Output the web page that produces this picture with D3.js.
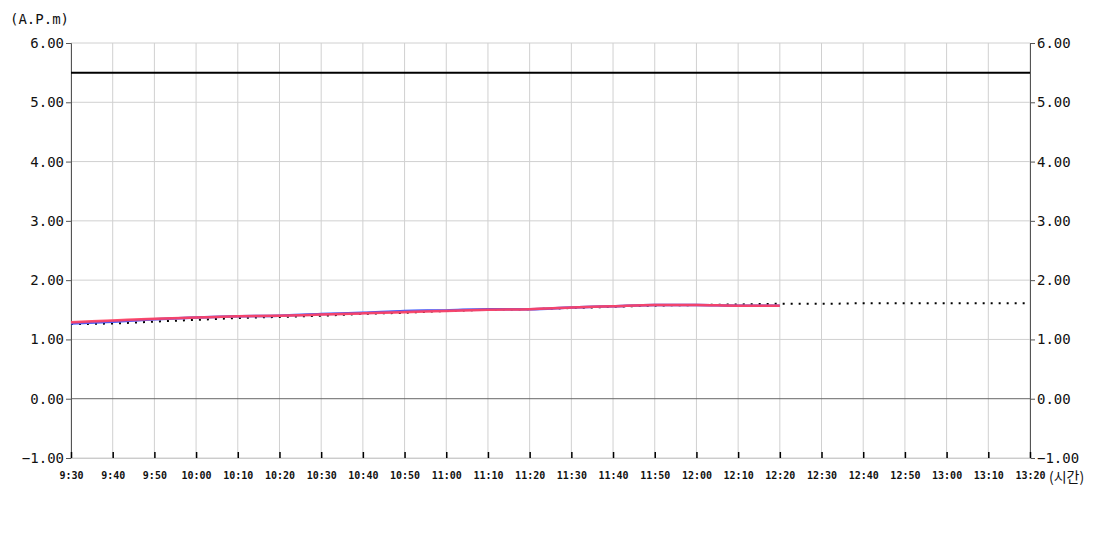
<!DOCTYPE html>
<html><head><meta charset="utf-8">
<script src="https://cdn.jsdelivr.net/npm/d3@7/dist/d3.min.js"></script>
<style>body{margin:0;background:#fff;}svg{display:block;font-family:"DejaVu Sans Mono",monospace;}</style>
</head><body>
<svg id="c" width="1100" height="550"></svg>
<script>
const timeLabels = ["9:30","9:40","9:50","10:00","10:10","10:20","10:30","10:40","10:50","11:00","11:10","11:20","11:30","11:40","11:50","12:00","12:10","12:20","12:30","12:40","12:50","13:00","13:10","13:20"];
const yTicks = [6,5,4,3,2,1,0,-1];
const threshold = 5.5;
const seriesBlue   = [1.27,1.30,1.34,1.37,1.39,1.40,1.43,1.45,1.48,1.49,1.51,1.51,1.54,1.56,1.58,1.58,1.57,1.57];
const seriesPurple = [1.28,1.31,1.34,1.37,1.39,1.40,1.42,1.44,1.47,1.49,1.50,1.51,1.54,1.56,1.58,1.58,1.57,1.57];
const seriesRed    = [1.29,1.32,1.35,1.37,1.39,1.40,1.42,1.44,1.46,1.48,1.50,1.51,1.54,1.56,1.58,1.58,1.57,1.57];
const seriesDotted = [1.26,1.27,1.30,1.33,1.36,1.38,1.40,1.43,1.45,1.48,1.50,1.51,1.53,1.55,1.57,1.58,1.59,1.60,1.60,1.61,1.61,1.61,1.61,1.61];

const svg = d3.select("#c");
const L = 71, R = 1030, T = 43, B = 458;
const x = d3.scalePoint().domain(timeLabels).range([L, R]);
const y = d3.scaleLinear().domain([-1, 6]).range([B, T]);

// grid
svg.append("g").selectAll("line").data(timeLabels).join("line")
  .attr("x1", d => x(d)).attr("x2", d => x(d)).attr("y1", T).attr("y2", B)
  .attr("stroke", "#d0d0d0").attr("stroke-width", 1);
svg.append("g").selectAll("line").data(yTicks).join("line")
  .attr("x1", L).attr("x2", R).attr("y1", d => y(d)).attr("y2", d => y(d))
  .attr("stroke", d => d === 0 ? "#666" : "#d0d0d0").attr("stroke-width", 1);

// axes
const yl = svg.append("g").attr("transform", `translate(${L},0)`)
  .call(d3.axisLeft(y).tickValues(yTicks).tickFormat(d3.format(".2f")).tickSize(5).tickPadding(2));
const yr = svg.append("g").attr("transform", `translate(${R},0)`)
  .call(d3.axisRight(y).tickValues(yTicks).tickFormat(d3.format(".2f")).tickSize(5).tickPadding(2));
[yl, yr].forEach(g => {
  g.select(".domain").attr("stroke", "#555");
  g.selectAll(".tick line").attr("stroke", "#555");
  g.selectAll("text").attr("font-size", 14).attr("fill", "#111").attr("font-family", "DejaVu Sans Mono, monospace");
});
const xa = svg.append("g").attr("transform", `translate(0,${B})`)
  .call(d3.axisBottom(x).tickSize(-6).tickPadding(14));
xa.select(".domain").attr("stroke", "#ccc");
xa.selectAll(".tick line").attr("stroke", "#000").attr("stroke-width", 1.5);
xa.selectAll("text").attr("font-size", 10).attr("font-weight", "bold").attr("fill", "#111").attr("font-family", "DejaVu Sans Mono, monospace");

svg.append("text").attr("x", 10).attr("y", 24).attr("font-size", 14).attr("fill", "#111").text("(A.P.m)");
svg.append("text").attr("x", 1049).attr("y", 482).attr("font-size", 14).attr("fill", "#111")
  .attr("font-family", "Noto Sans CJK KR, DejaVu Sans Mono").text("(시간)");

// threshold
svg.append("line").attr("x1", L).attr("x2", R).attr("y1", y(threshold)).attr("y2", y(threshold))
  .attr("stroke", "#000").attr("stroke-width", 2);

const line = d3.line().x((d, i) => x(timeLabels[i])).y(d => y(d)).curve(d3.curveMonotoneX);
svg.append("path").datum(seriesDotted).attr("d", line).attr("fill", "none")
  .attr("stroke", "#000").attr("stroke-width", 2).attr("stroke-dasharray", "2,6");
svg.append("path").datum(seriesBlue).attr("d", line).attr("fill", "none")
  .attr("stroke", "#3355ff").attr("stroke-width", 2.5);
svg.append("path").datum(seriesPurple).attr("d", line).attr("fill", "none")
  .attr("stroke", "#b060c0").attr("stroke-width", 2.5).attr("opacity", 0.6);
svg.append("path").datum(seriesRed).attr("d", line).attr("fill", "none")
  .attr("stroke", "#ff4060").attr("stroke-width", 2.5).attr("opacity", 0.9);
</script>
</body></html>
